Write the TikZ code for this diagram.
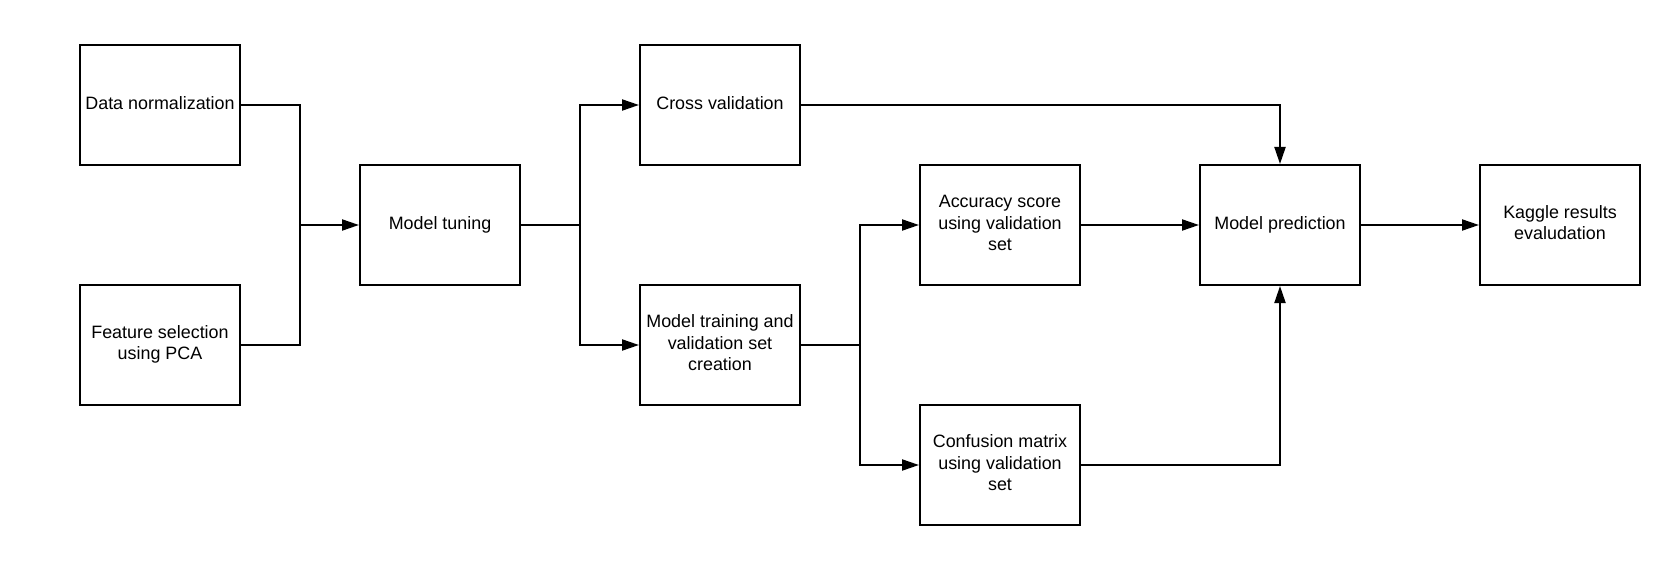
\documentclass[tikz,border=0pt]{standalone}
\usepackage{fontspec}
\setmainfont{Liberation Sans}
\usetikzlibrary{arrows.meta}
\newcommand{\bxt}[1]{\raisebox{3pt}{\begin{tabular}{@{}c@{}}#1\end{tabular}}}
\begin{document}
\begin{tikzpicture}[x=1pt,y=-1pt,
  box/.style={draw=black, line width=2pt, minimum width=160pt, minimum height=120pt,
    inner sep=0pt, align=center, font=\fontsize{17.9}{21.3}\selectfont},
  conn/.style={draw=black, line width=2pt},
  arr/.style={conn, -{Triangle[length=17pt,width=11pt]}}]
\useasboundingbox (0,0) rectangle (1664,564);
\node[box] (dn)  at (160,105) {\bxt{Data normalization}};
\node[box] (fs)  at (160,345) {\bxt{Feature selection\\using PCA}};
\node[box] (mt)  at (440,225) {\bxt{Model tuning}};
\node[box] (cv)  at (720,105) {\bxt{Cross validation}};
\node[box] (mtr) at (720,345) {\bxt{Model training and\\validation set\\creation}};
\node[box] (acc) at (1000,225) {\bxt{Accuracy score\\using validation\\set}};
\node[box] (cm)  at (1000,465) {\bxt{Confusion matrix\\using validation\\set}};
\node[box] (mp)  at (1280,225) {\bxt{Model prediction}};
\node[box] (kg)  at (1560,225) {\bxt{Kaggle results\\evaludation}};
\coordinate (j1) at (300,225);
\coordinate (j2) at (580,225);
\coordinate (j3) at (860,345);
\draw[conn] (dn.east) -| (j1);
\draw[conn] (fs.east) -| (j1);
\draw[arr] (j1) -- (mt.west);
\draw[conn] (mt.east) -- (j2);
\draw[arr] (j2) |- (cv.west);
\draw[arr] (j2) |- (mtr.west);
\draw[conn] (mtr.east) -- (j3);
\draw[arr] (j3) |- (acc.west);
\draw[arr] (j3) |- (cm.west);
\draw[arr] (cv.east) -| (mp.north);
\draw[arr] (acc.east) -- (mp.west);
\draw[arr] (cm.east) -| (mp.south);
\draw[arr] (mp.east) -- (kg.west);
\end{tikzpicture}
\end{document}
